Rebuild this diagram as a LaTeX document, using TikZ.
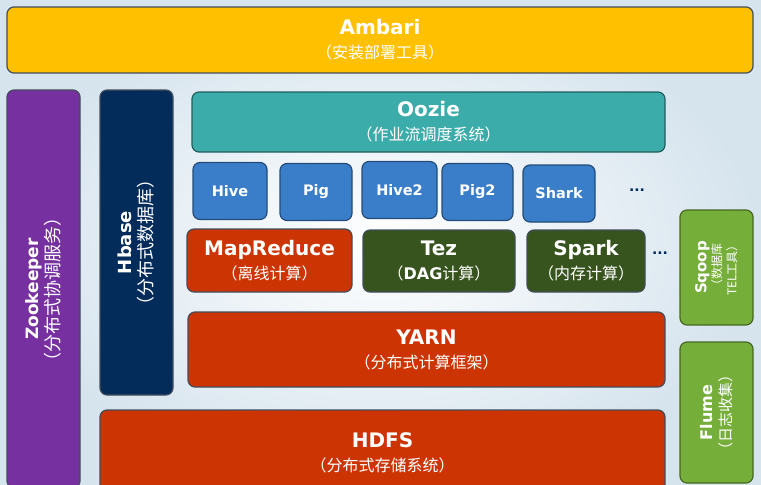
\documentclass[tikz,border=0pt]{standalone}
\usepackage{fontspec}
\setmainfont{DejaVu Sans}
\newfontfamily\cjk{Noto Sans CJK SC}
\usetikzlibrary{positioning}

\definecolor{ambarigold}{RGB}{255,192,0}
\definecolor{zkpurple}{RGB}{118,48,160}
\definecolor{hbasenavy}{RGB}{4,44,90}
\definecolor{oozieteal}{RGB}{60,172,170}
\definecolor{toolblue}{RGB}{58,126,202}
\definecolor{corered}{RGB}{205,52,4}
\definecolor{enginegreen}{RGB}{56,84,30}
\definecolor{ingestgreen}{RGB}{118,174,58}
\definecolor{edgegray}{RGB}{66,78,92}
\definecolor{bgblue}{RGB}{214,228,238}

% subtitle in Chinese, regular weight
\newcommand{\zh}[2][16]{{\cjk\mdseries\fontsize{#1}{#1}\selectfont #2}}

\begin{document}
\begin{tikzpicture}[x=1pt, y=-1pt,
  layer/.style={draw=edgegray, line width=1.2pt, rounded corners=7pt, text=white,
                align=center, inner sep=0pt, font=\bfseries\fontsize{20}{24}\selectfont},
  tool/.style={layer, fill=toolblue, draw=toolblue!60!black, minimum height=57pt,
               font=\bfseries\fontsize{14.5}{16}\selectfont},
  side/.style={layer, rotate=90, minimum height=73pt},
  dots/.style={text=hbasenavy, font=\bfseries\fontsize{14}{16}\selectfont}
]
\useasboundingbox (0,0) rectangle (761,485);
\clip (0,0) rectangle (761,485);
\shade[inner color=white, outer color=bgblue] (0,0) rectangle (761,485);

% top
\node[layer, fill=ambarigold, minimum width=746pt, minimum height=66pt] (ambari) at (380,40)
  {Ambari\\\zh{（安装部署工具）}};

% left columns
\node[side, fill=zkpurple, minimum width=398pt, font=\bfseries\fontsize{17}{21}\selectfont] (zookeeper) at (43.5,289)
  {Zookeeper\\\zh[18]{（分布式协调服务）}};
\node[side, fill=hbasenavy, minimum width=305pt, font=\bfseries\fontsize{18}{21}\selectfont] (hbase) at (136.5,242.5)
  {Hbase\\\zh[18]{（分布式数据库）}};

% scheduling
\node[layer, fill=oozieteal, draw=oozieteal!55!black, minimum width=473pt, minimum height=60pt] (oozie) at (428.5,122)
  {Oozie\\\zh{（作业流调度系统）}};

% tools
\node[tool, minimum width=74pt] (hive) at (230,191) {Hive};
\node[tool, minimum width=72pt] (pig) at (316,192) {Pig};
\node[tool, minimum width=75pt] (hivetwo) at (399.5,190) {Hive2};
\node[tool, minimum width=71pt] (pigtwo) at (477.5,192) {Pig2};
\node[tool, minimum width=72pt] (shark) at (559,193.5) {Shark};
\node[dots] (dotsa) at (637,190) {...};

% engines
\node[layer, fill=corered, minimum width=165pt, minimum height=63pt] (mapreduce) at (269.5,260.5)
  {MapReduce\\\zh{（离线计算）}};
\node[layer, fill=enginegreen, minimum width=152pt, minimum height=62pt] (tez) at (439,261)
  {Tez\\\zh{（{\normalfont\bfseries DAG}计算）}};
\node[layer, fill=enginegreen, minimum width=118pt, minimum height=62pt] (spark) at (586,261)
  {Spark\\\zh{（内存计算）}};
\node[dots] (dotsb) at (660,253) {...};

% resources and storage
\node[layer, fill=corered, minimum width=477pt, minimum height=75pt] (yarn) at (426.5,349.5)
  {YARN\\\zh{（分布式计算框架）}};
\node[layer, fill=corered, minimum width=565pt, minimum height=85pt] (hdfs) at (382.5,452.5)
  {HDFS\\\zh{（分布式存储系统）}};

% ingest
\node[side, fill=ingestgreen, draw=ingestgreen!60!black, minimum width=115pt, font=\bfseries\fontsize{15}{15}\selectfont] (sqoop) at (716.5,267.5)
  {Sqoop\\\zh[12]{（数据库}\\\zh[12]{TEL工具）}};
\node[side, fill=ingestgreen, draw=ingestgreen!60!black, minimum width=141pt, font=\bfseries\fontsize{16}{19}\selectfont] (flume) at (716.5,412.5)
  {Flume\\\zh[15]{（日志收集）}};
\end{tikzpicture}
\end{document}
